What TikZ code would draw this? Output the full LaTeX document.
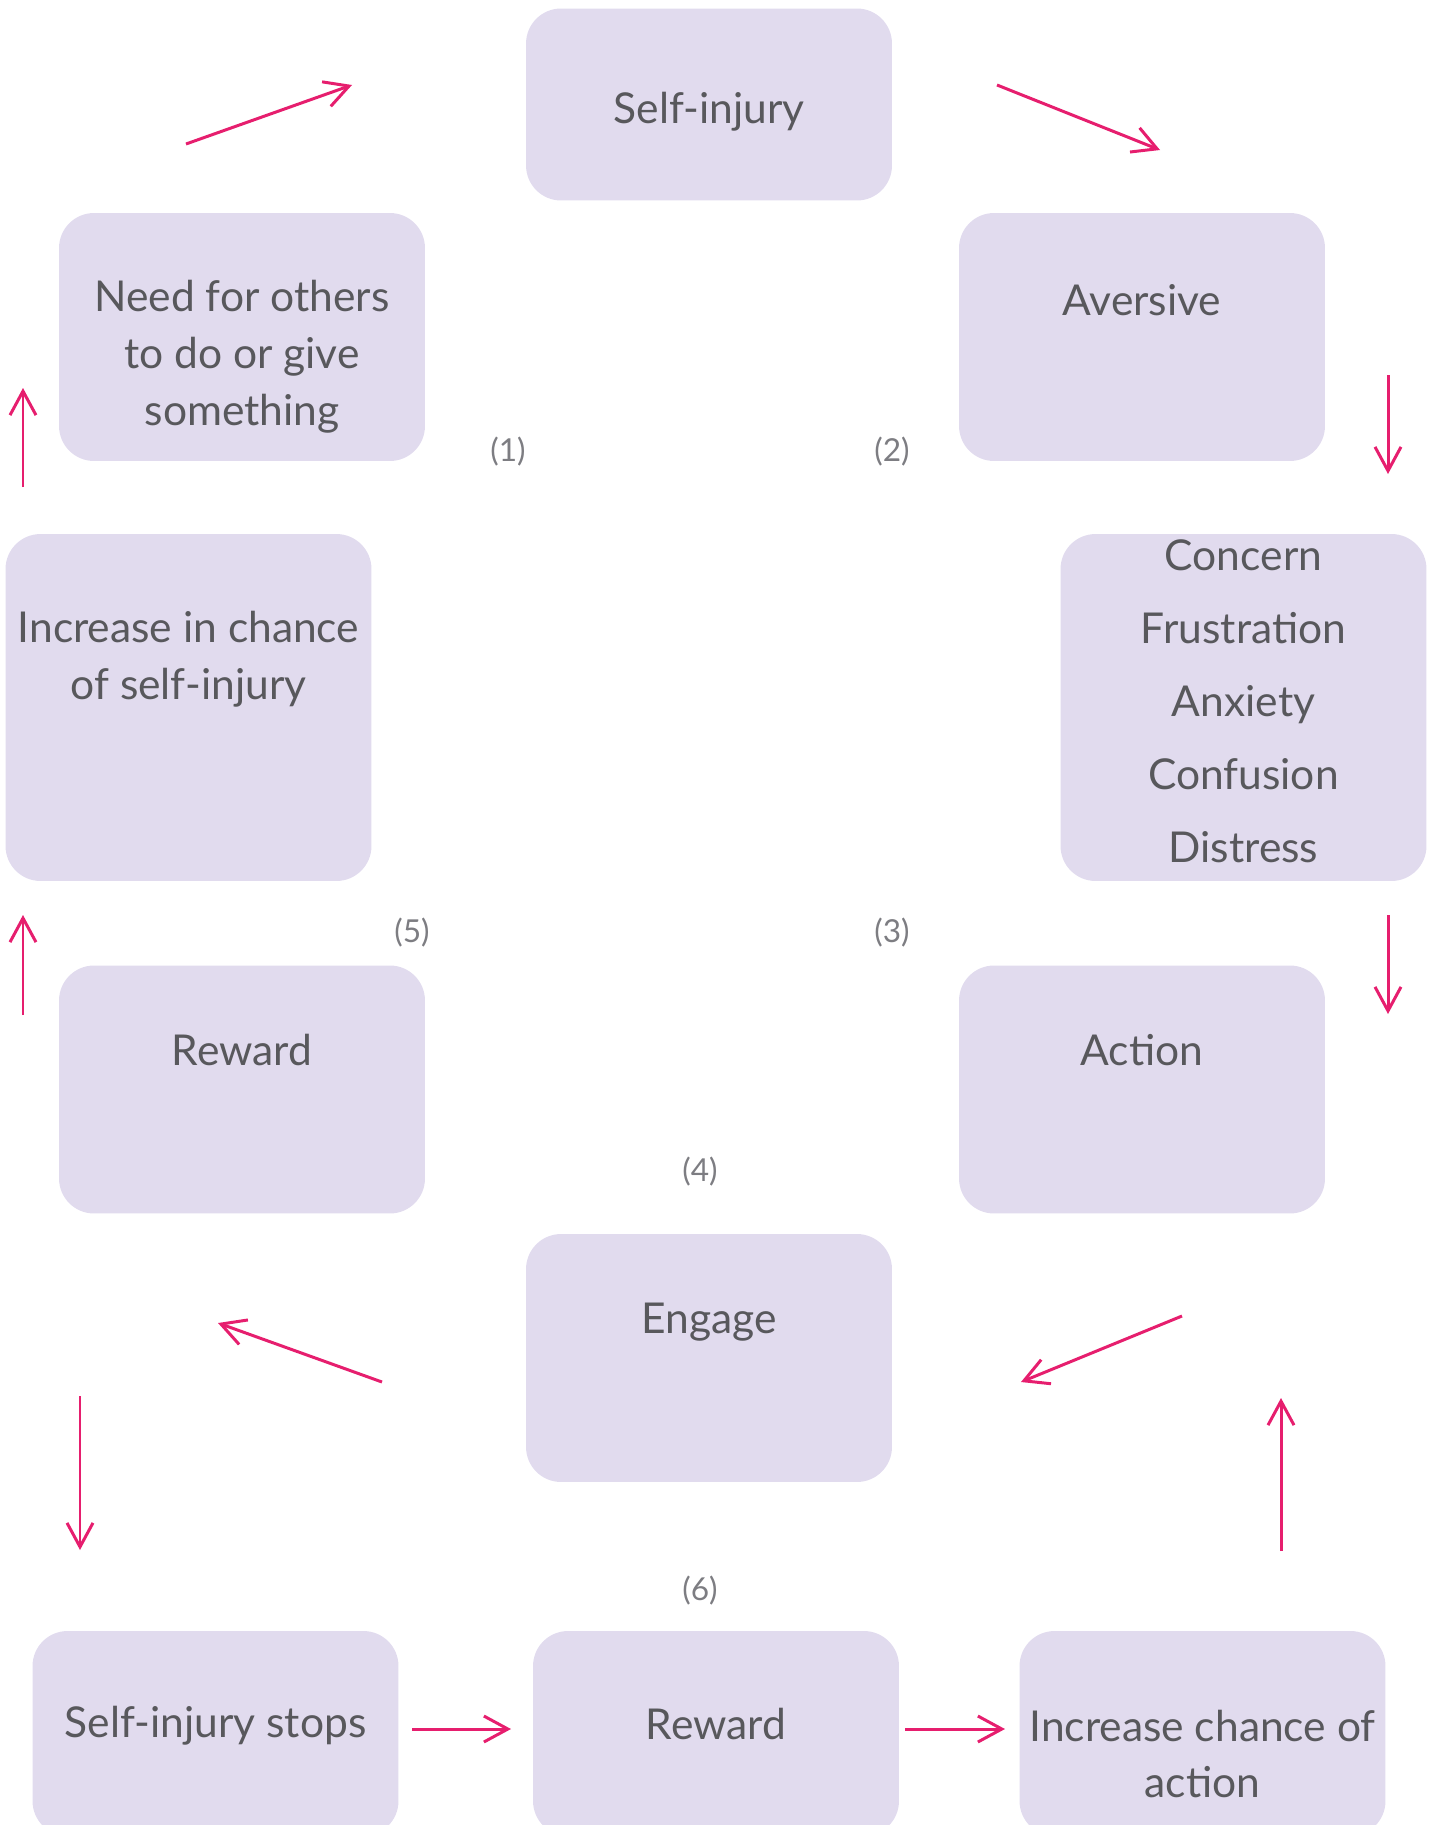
\documentclass[tikz,border=0pt]{standalone}
\usepackage{fontspec}
\setmainfont{Lato}
\usetikzlibrary{arrows.meta}
\definecolor{boxfill}{RGB}{225,219,238}
\definecolor{txtgray}{RGB}{88,88,92}
\definecolor{numgray}{RGB}{125,125,130}
\definecolor{linkpink}{RGB}{230,30,110}
\begin{document}
\begin{tikzpicture}[x=0.02cm, y=-0.02cm, >={Straight Barb[length=0.48cm, width=0.52cm]},
    box/.style={fill=boxfill, rounded corners=0.7cm, minimum width=7.32cm, minimum height=4.96cm, inner sep=0pt},
    txt/.style={text=txtgray, align=center, font=\fontsize{24.2}{32.4}\selectfont},
    num/.style={text=numgray, font=\fontsize{18}{20}\selectfont},
    link/.style={->, draw=linkpink, line width=1.7pt}]
  \path[use as bounding box, clip] (0,0) rectangle (1439,1825);
  % boxes
  \node[box, minimum height=3.84cm] (selfinj) at (709,104.5) {};
  \node[box] (need) at (242,337) {};
  \node[box] (aversive) at (1142,337) {};
  \node[box, minimum height=6.94cm] (incr) at (188.5,707.5) {};
  \node[box, minimum height=6.94cm] (feel) at (1243.5,707.5) {};
  \node[box] (rewardl) at (242,1089.5) {};
  \node[box] (action) at (1142,1089.5) {};
  \node[box] (engage) at (709,1358) {};
  \node[box, minimum height=4.1cm] (stops) at (215.5,1733.5) {};
  \node[box, minimum height=4.1cm] (rewardb) at (716,1733.5) {};
  \node[box, minimum height=4.1cm] (incract) at (1202.5,1733.5) {};
  % texts
  \node[txt] (selfinj-t) at (709,112) {Self-injury};
  \node[txt] (need-t) at (242,357) {Need for others\\to do or give\\something};
  \node[txt] (aversive-t) at (1142,300) {Aversive};
  \node[txt] (incr-t) at (188.5,659) {Increase in chance\\of self-injury};
  \node[txt, font=\fontsize{24.2}{41.5}\selectfont] (feel-t) at (1243.5,701) {Concern\\Frustration\\Anxiety\\Confusion\\Distress};
  \node[txt] (rewardl-t) at (242,1050) {Reward};
  \node[txt] (action-t) at (1142,1050) {Action};
  \node[txt] (engage-t) at (709,1322) {Engage};
  \node[txt] (stops-t) at (215.5,1726) {Self-injury stops};
  \node[txt] (rewardb-t) at (716,1724) {Reward};
  \node[txt] (incract-t) at (1202.5,1754) {Increase chance of\\action};
  % step numbers
  \node[num] (n1) at (508,452) {(1)};
  \node[num] (n2) at (892,452) {(2)};
  \node[num] (n3) at (892,933) {(3)};
  \node[num] (n4) at (700,1172) {(4)};
  \node[num] (n5) at (412,933) {(5)};
  \node[num] (n6) at (700,1591) {(6)};
  % arrow ends
  \coordinate (need-a) at (186,144);   \coordinate (selfinj-b) at (352,85);
  \coordinate (selfinj-a) at (997,85); \coordinate (aversive-b) at (1160,150);
  \coordinate (aversive-a) at (1388,375); \coordinate (feel-b) at (1388,474);
  \coordinate (feel-a) at (1388,915);  \coordinate (action-b) at (1388,1014);
  \coordinate (action-a) at (1182,1316); \coordinate (engage-b) at (1021,1382);
  \coordinate (engage-a) at (382,1382); \coordinate (engage-c) at (218,1323);
  \coordinate (stops-a) at (80,1396);  \coordinate (stops-b) at (80,1550);
  \coordinate (stops-c) at (412,1729); \coordinate (rewardb-b) at (511,1729);
  \coordinate (rewardb-a) at (905,1729); \coordinate (incract-b) at (1005,1729);
  \coordinate (incract-a) at (1281,1551); \coordinate (incract-c) at (1281,1398);
  \coordinate (rewardl-a) at (23,1015); \coordinate (rewardl-b) at (23,915);
  \coordinate (incr-a) at (23,487);    \coordinate (incr-b) at (23,388);
  % arrows
  \draw[link] (need-a) -- (selfinj-b);
  \draw[link] (selfinj-a) -- (aversive-b);
  \draw[link] (aversive-a) -- (feel-b);
  \draw[link] (feel-a) -- (action-b);
  \draw[link] (action-a) -- (engage-b);
  \draw[link] (engage-a) -- (engage-c);
  \draw[link] (stops-a) -- (stops-b);
  \draw[link] (stops-c) -- (rewardb-b);
  \draw[link] (rewardb-a) -- (incract-b);
  \draw[link] (incract-a) -- (incract-c);
  \draw[link] (rewardl-a) -- (rewardl-b);
  \draw[link] (incr-a) -- (incr-b);
\end{tikzpicture}
\end{document}
